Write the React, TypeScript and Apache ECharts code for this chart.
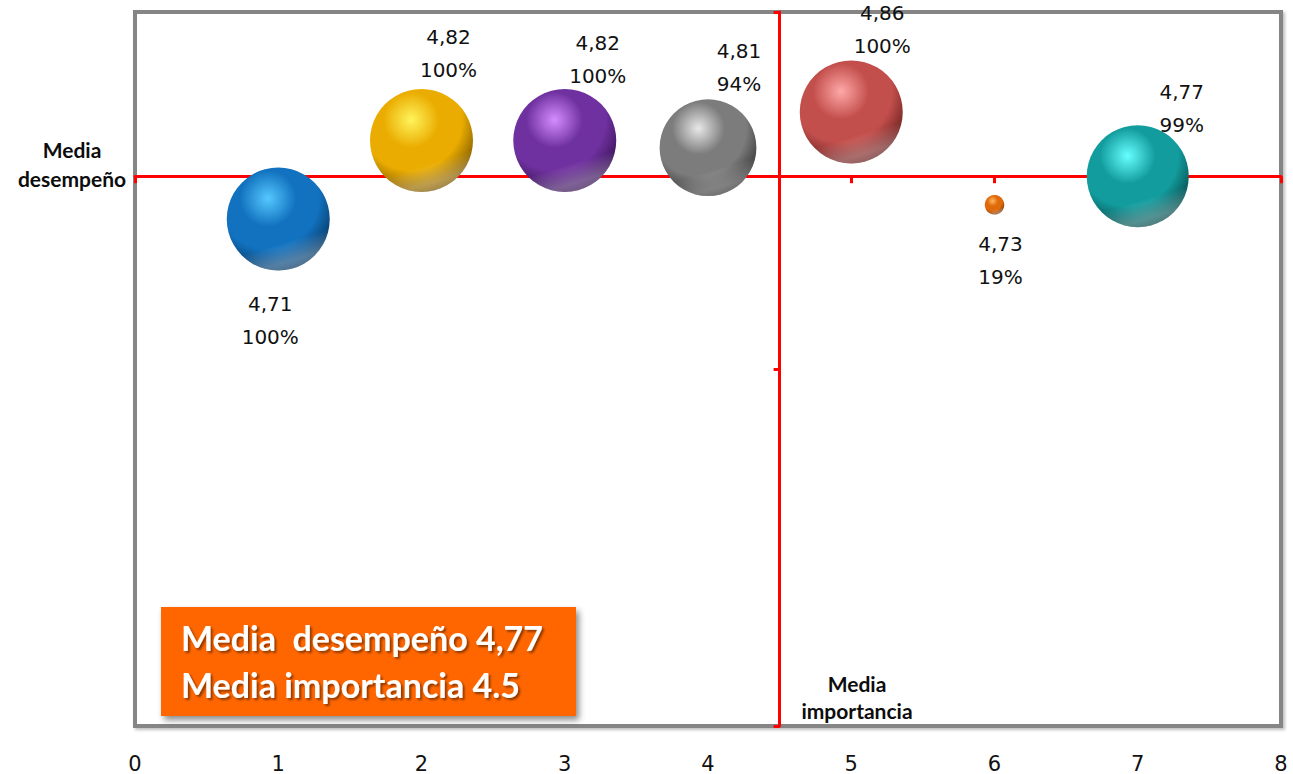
import React, { useEffect, useRef } from "react";
import * as echarts from "echarts";

// ---- data ----
const X_TICKS = [0, 1, 2, 3, 4, 5, 6, 7, 8];
const importancia = [1, 2, 3, 4, 5, 6, 7];
const desempeno = [4.71, 4.82, 4.82, 4.81, 4.86, 4.73, 4.77];
const porcentaje = [100, 100, 100, 94, 100, 19, 99];
const colores = [
  ["#55c8ff", "#1272bf", "#032445"],
  ["#fff45c", "#eaac00", "#5a3c00"],
  ["#d58cff", "#7031a0", "#220838"],
  ["#e8e8e8", "#7c7c7c", "#1e1e1e"],
  ["#ffa8a8", "#c34f4c", "#4a1010"],
  ["#ffb860", "#e06a0a", "#5a2400"],
  ["#66ffff", "#139c9e", "#022e2f"],
];
const labelOffsets = [
  [-8, 101],
  [27, -87],
  [33, -81],
  [31, -80],
  [31, -82],
  [6, 56],
  [44, -68],
];
const MEDIA_DESEMPENO = 4.77;
const MEDIA_IMPORTANCIA = 4.5;
const X_MIN = 0, X_MAX = 8;
const Y_MIN = 4, Y_MAX = 5;

// ---- layout ----
const W = 1293, H = 774;
const G_LEFT = 135, G_TOP = 12, G_W = 1146, G_H = 714;
const FULL_SIZE = 103;

export default function App() {
  const ref = useRef<HTMLDivElement>(null);
  useEffect(() => {
    if (!ref.current) return;
    const chart = echarts.init(ref.current, null, { renderer: "svg" });
    const points = importancia.map((x, i) => ({
      value: [x, desempeno[i], porcentaje[i]],
      symbolSize: (porcentaje[i] / 100) * FULL_SIZE,
    }));
    const data = points.map((p, i) => {
      const [hi, base, dark] = colores[i];
      return {
        ...p,
        itemStyle: {
          opacity: 1,
          color: new echarts.graphic.RadialGradient(0.4, 0.3, 0.85, [
            { offset: 0, color: hi },
            { offset: 0.32, color: base },
            { offset: 0.58, color: base },
            { offset: 0.93, color: dark },
            { offset: 1, color: dark },
          ]),
        },
        label: { offset: labelOffsets[i] },
      };
    });
    const hOffset = -((Y_MAX - MEDIA_DESEMPENO) / (Y_MAX - Y_MIN)) * G_H;
    const vOffset = -((X_MAX - MEDIA_IMPORTANCIA) / (X_MAX - X_MIN)) * G_W;
    const red = "#ff0000";
    const titleStyle = {
      fontFamily: "Lato",
      fontWeight: "bold",
      fontSize: 21,
      fill: "#0d0d0d",
      textAlign: "center",
      align: "center",
      textVerticalAlign: "middle",
      verticalAlign: "middle",
    };
    chart.setOption({
      animation: false,
      backgroundColor: "#ffffff",
      grid: {
        left: G_LEFT,
        top: G_TOP,
        width: G_W,
        height: G_H,
        show: true,
        borderColor: "#858585",
        borderWidth: 4,
        backgroundColor: "#ffffff",
        shadowColor: "rgba(0,0,0,0.25)",
        shadowBlur: 3,
        shadowOffsetX: 2,
        shadowOffsetY: 2,
      },
      xAxis: [
        {
          type: "value",
          min: X_MIN,
          max: X_MAX,
          interval: 1,
          position: "bottom",
          axisLine: { show: false, onZero: false },
          axisTick: { show: false },
          splitLine: { show: false },
          axisLabel: {
            margin: 27,
            fontFamily: "DejaVu Sans",
            fontSize: 21,
            color: "#111",
            formatter: (v: number) => (X_TICKS.includes(v) ? String(v) : ""),
          },
        },
        {
          type: "value",
          min: X_MIN,
          max: X_MAX,
          interval: 1,
          position: "top",
          offset: hOffset,
          axisLine: { show: true, onZero: false, lineStyle: { color: red, width: 3 } },
          axisTick: { show: true, inside: true, length: 7, lineStyle: { color: red, width: 3 } },
          axisLabel: { show: false },
          splitLine: { show: false },
        },
      ],
      yAxis: [
        {
          type: "value",
          min: Y_MIN,
          max: Y_MAX,
          interval: 0.5,
          position: "left",
          show: false,
          axisLine: { onZero: false },
          splitLine: { show: false },
        },
        {
          type: "value",
          min: Y_MIN,
          max: Y_MAX,
          interval: 0.5,
          position: "right",
          offset: vOffset,
          axisLine: { show: true, onZero: false, lineStyle: { color: red, width: 3 } },
          axisTick: { show: true, inside: true, length: 6, lineStyle: { color: red, width: 3 } },
          axisLabel: { show: false },
          splitLine: { show: false },
        },
      ],
      series: [
        {
          type: "scatter",
          xAxisIndex: 0,
          yAxisIndex: 0,
          z: 5,
          data,
          itemStyle: { opacity: 1 },
          label: {
            show: true,
            position: "inside",
            fontFamily: "DejaVu Sans",
            fontSize: 20,
            lineHeight: 33,
            color: "#111",
            align: "center",
            formatter: (p: any) =>
              p.value[1].toFixed(2).replace(".", ",") + "\n" + p.value[2] + "%",
          },
        },
        {
          type: "scatter",
          xAxisIndex: 0,
          yAxisIndex: 0,
          z: 6,
          silent: true,
          data: points,
          label: { show: false },
          itemStyle: {
            opacity: 1,
            color: new echarts.graphic.LinearGradient(0, 0, 0.3, 1, [
              { offset: 0, color: "rgba(255,255,255,0)" },
              { offset: 0.82, color: "rgba(255,255,255,0)" },
              { offset: 1, color: "rgba(255,255,255,0.3)" },
            ]),
          },
        },
      ],
      graphic: [
        { type: "text", x: 72, y: 149, style: { ...titleStyle, text: "Media" } },
        { type: "text", x: 72, y: 178, style: { ...titleStyle, text: "desempeño" } },
        { type: "text", x: 857, y: 683, style: { ...titleStyle, text: "Media" } },
        { type: "text", x: 857, y: 710, style: { ...titleStyle, text: "importancia" } },
        {
          type: "rect",
          left: 161,
          top: 607,
          z: 20,
          shape: { width: 415, height: 109 },
          style: {
            fill: "#ff6600",
            shadowColor: "rgba(0,0,0,0.45)",
            shadowBlur: 6,
            shadowOffsetX: 3,
            shadowOffsetY: 4,
          },
        },
        {
          type: "text",
          left: 181,
          top: 614,
          z: 21,
          style: {
            text: "Media  desempeño 4,77\nMedia importancia 4.5",
            fontFamily: "Lato",
            fontWeight: "bold",
            fontSize: 34,
            lineHeight: 47,
            fill: "#ffffff",
            textShadowColor: "rgba(0,0,0,0.45)",
            textShadowBlur: 2,
            textShadowOffsetX: 2,
            textShadowOffsetY: 2,
          },
        },
      ],
    });
    return () => chart.dispose();
  }, []);
  return (
    <div
      ref={ref}
      style={{ position: "absolute", left: 0, top: 0, width: W, height: H }}
    />
  );
}
